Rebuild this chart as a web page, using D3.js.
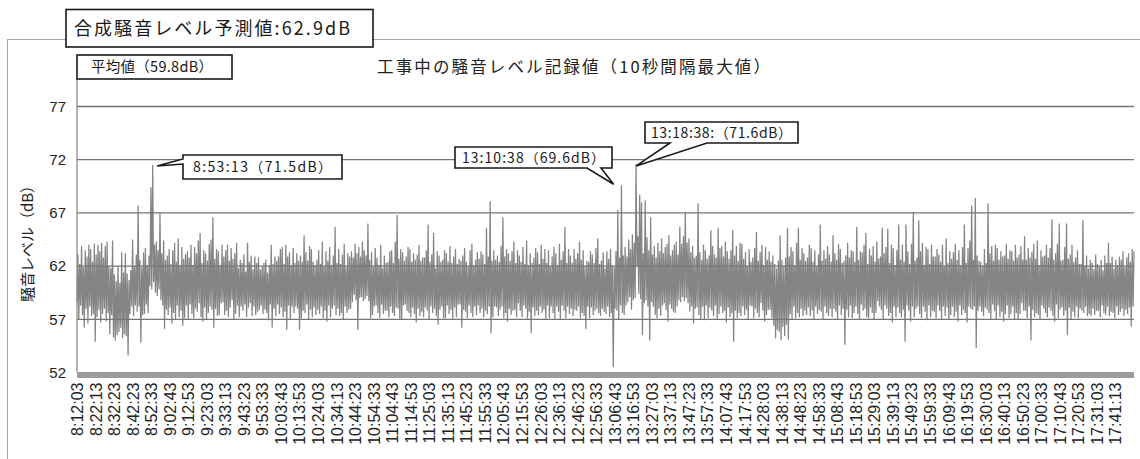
<!DOCTYPE html>
<html><head><meta charset="utf-8">
<script src="https://cdn.jsdelivr.net/npm/d3@7"></script>
<style>body{margin:0;background:#fff;} svg{display:block;}</style>
</head><body>
<svg id="c" width="1140" height="459"></svg>
<script>
// ---- data ----
const startTime = "8:12:03";
const stepSeconds = 30;           // one value read every 30 s from the picture
const yTicks = [52, 57, 62, 67, 72, 77];
const tickLabels = ["8:12:03","8:22:13","8:32:23","8:42:23","8:52:33","9:02:43","9:12:53","9:23:03","9:33:13","9:43:23","9:53:33","10:03:43","10:13:53","10:24:03","10:34:13","10:44:23","10:54:33","11:04:43","11:14:53","11:25:03","11:35:13","11:45:23","11:55:33","12:05:43","12:15:53","12:26:03","12:36:13","12:46:23","12:56:33","13:06:43","13:16:53","13:27:03","13:37:13","13:47:23","13:57:33","14:07:43","14:17:53","14:28:03","14:38:13","14:48:23","14:58:33","15:08:43","15:18:53","15:29:03","15:39:13","15:49:23","15:59:33","16:09:43","16:19:53","16:30:03","16:40:13","16:50:23","17:00:33","17:10:43","17:20:53","17:31:03","17:41:13"];
const noise = [
58.6,63.1,57.0,62.2,58.3,63.9,57.4,61.9,56.2,63.5,58.0,62.9,56.6,64.0,58.2,63.6,57.3,62.4,57.5,64.1,
54.9,63.1,57.2,64.0,57.9,63.4,56.7,64.2,57.5,62.8,58.0,63.9,56.8,64.3,57.6,62.0,55.6,61.8,57.4,64.4,
55.3,61.2,55.0,60.6,55.5,62.0,55.8,60.4,56.2,63.3,55.2,61.4,55.6,63.2,55.4,61.3,53.6,60.7,57.5,61.6,
58.2,64.5,57.3,62.0,58.3,63.1,57.7,67.7,58.2,62.6,54.8,61.9,57.4,63.3,57.5,63.7,58.4,62.1,57.6,63.0,
60.1,69.4,59.8,71.5,60.5,64.0,59.5,64.3,59.2,63.5,59.8,67.0,58.8,63.2,58.3,64.4,56.1,62.6,57.9,63.0,
57.4,63.6,58.1,62.2,56.6,63.5,57.6,64.2,57.0,62.4,58.3,64.6,57.2,62.1,57.8,63.8,56.4,62.7,57.1,63.1,
58.3,63.4,57.0,62.8,58.4,64.0,57.5,62.1,57.1,63.8,58.0,63.2,57.7,64.4,58.5,65.1,57.2,62.3,56.8,63.5,
58.1,63.2,57.0,62.5,57.6,64.1,58.2,64.5,57.9,66.6,56.2,62.7,58.0,63.6,57.3,63.4,57.4,62.1,58.5,64.0,
58.6,62.9,57.4,63.5,57.8,64.0,57.2,62.5,58.1,63.7,58.8,62.7,57.0,63.2,57.5,64.2,58.3,61.8,57.2,62.6,
58.2,62.3,57.8,63.1,58.4,61.5,57.2,64.2,58.1,62.4,58.5,63.0,57.3,61.7,58.2,62.9,57.4,62.3,57.7,62.8,
57.9,61.7,58.3,62.0,57.5,62.3,57.9,62.6,57.6,61.4,56.9,62.1,58.4,64.0,56.2,62.2,58.0,62.9,57.3,62.5,
58.4,62.9,57.5,63.6,58.1,63.8,57.2,62.2,57.7,64.0,56.0,62.9,58.3,63.3,57.0,62.1,58.2,63.7,57.6,62.3,
58.2,63.2,58.0,62.5,56.0,63.0,57.1,62.4,57.8,64.9,57.6,63.3,58.4,62.5,56.9,63.9,57.9,63.6,57.2,62.4,
58.1,62.1,57.4,62.6,57.9,63.5,57.5,62.2,58.2,64.3,57.1,62.0,57.8,63.4,56.8,62.5,58.3,63.8,57.2,62.1,
58.0,63.0,58.3,65.7,57.4,62.3,58.0,63.6,57.3,62.2,57.6,63.1,57.0,64.1,58.2,61.9,57.6,63.2,57.9,62.9,
58.0,63.4,58.6,62.8,59.3,64.1,58.8,63.2,56.0,63.8,59.0,62.9,59.1,64.3,58.7,63.5,58.9,63.0,59.2,66.0,
58.7,62.6,57.1,63.3,57.4,61.9,58.2,63.7,58.3,62.8,57.6,62.1,57.1,64.0,58.4,61.8,57.5,63.0,57.8,62.3,
57.8,62.4,57.2,63.4,58.2,63.5,57.6,62.3,57.3,64.3,58.1,66.8,58.0,62.7,57.0,63.6,56.9,63.3,58.3,62.5,
58.4,62.9,57.8,63.8,57.6,63.6,57.2,62.4,58.1,63.2,57.5,62.6,56.7,63.1,58.0,64.0,57.3,62.5,57.7,62.8,
57.2,62.8,58.1,63.5,57.8,65.9,57.0,62.4,58.2,63.1,57.6,65.1,58.0,61.8,57.3,63.4,56.5,63.0,57.9,62.4,
58.2,62.6,57.1,63.5,57.1,63.2,58.3,62.4,57.5,63.9,57.9,62.3,56.9,62.9,58.1,63.6,57.2,62.2,58.4,62.7,
58.4,62.5,56.2,63.0,57.9,63.7,57.7,62.4,57.1,62.0,58.3,63.5,57.6,64.1,57.2,62.1,58.2,62.6,57.4,63.3,
58.3,62.7,57.6,63.4,58.0,63.1,57.2,62.2,57.8,65.6,57.5,62.9,58.2,68.1,55.7,62.5,57.2,63.5,58.2,62.6,
58.1,63.0,57.3,62.4,57.9,63.9,58.2,66.6,57.1,62.9,57.6,63.6,56.8,63.2,58.0,62.5,57.4,63.4,57.8,64.3,
57.9,62.3,57.2,63.5,58.5,63.0,57.8,62.4,57.2,63.8,58.3,62.2,58.0,64.4,57.0,62.1,57.7,63.2,55.7,62.3,
58.1,62.8,57.3,63.7,57.8,63.3,57.4,62.2,58.2,64.0,57.6,62.7,57.9,63.6,57.0,62.3,58.3,63.5,57.1,62.0,
58.2,62.9,57.6,63.8,57.0,63.2,58.2,62.1,57.7,64.1,56.9,62.6,58.3,63.4,57.8,65.7,57.1,62.3,58.2,63.6,
57.5,63.0,58.0,62.3,57.3,63.6,57.9,62.7,57.8,63.2,58.2,64.3,57.1,62.6,57.6,63.5,57.3,62.0,56.1,62.5,
58.2,62.4,57.1,63.4,58.1,63.1,57.4,62.3,57.8,63.7,58.0,64.6,57.6,62.2,57.3,62.5,58.0,63.3,57.7,61.8,
57.5,63.4,58.2,62.7,57.2,63.6,57.6,62.1,52.5,61.9,58.0,63.4,57.8,67.3,57.0,62.8,58.3,69.6,57.6,63.0,
57.4,63.8,58.3,62.9,58.6,64.5,59.1,63.6,57.9,65.0,58.8,64.2,59.0,71.6,62.0,64.8,59.4,68.7,58.9,68.0,
55.5,63.2,58.5,68.2,58.8,64.7,58.2,63.5,55.0,66.6,58.6,63.1,58.2,63.9,57.4,62.8,57.1,64.2,58.0,63.4,
57.3,64.6,58.3,63.2,58.5,63.8,57.9,64.1,56.8,64.9,58.4,63.0,58.0,63.5,57.7,64.0,57.6,64.3,58.2,63.1,
58.8,65.7,58.6,64.1,59.1,64.8,58.7,67.1,59.0,64.2,58.5,64.6,57.7,63.3,58.2,63.9,56.6,62.8,58.0,63.0,
58.1,67.9,57.4,63.3,57.0,62.6,58.2,64.0,56.9,63.5,58.3,62.7,57.1,63.0,58.1,65.4,57.8,63.9,57.3,63.1,
58.3,62.8,57.0,65.6,57.5,63.7,58.2,63.9,57.6,62.9,57.8,64.3,56.7,63.4,58.1,62.7,57.2,63.5,57.6,65.4,
54.9,63.0,57.8,63.9,57.1,62.5,57.6,64.2,57.3,64.1,58.2,62.7,57.4,63.3,57.9,62.0,57.0,63.6,58.3,62.4,
58.2,62.8,57.1,63.7,58.0,65.2,57.6,62.5,57.2,63.3,58.5,64.0,57.8,62.1,56.8,63.8,57.4,62.6,57.9,63.4,
57.9,62.4,57.1,63.0,56.4,62.2,55.2,61.8,56.0,62.5,55.8,64.9,55.0,62.6,56.3,62.0,55.4,62.8,56.5,65.6,
55.1,62.9,57.5,63.8,57.0,63.4,58.2,62.1,57.1,64.2,57.6,65.6,57.2,62.6,58.0,63.7,57.3,63.2,57.8,62.5,
57.4,62.8,58.1,64.0,57.3,63.7,57.8,62.4,57.0,63.5,58.2,62.0,57.5,63.1,57.9,65.9,57.7,62.5,57.0,63.5,
58.2,62.7,57.6,63.9,57.3,63.1,58.0,62.4,57.2,64.9,58.0,63.2,57.7,62.6,56.9,64.1,58.3,63.6,57.4,62.3,
58.0,62.5,54.6,63.0,57.9,64.2,57.2,62.8,58.3,63.5,57.1,63.4,57.6,62.4,58.2,65.7,57.5,62.6,56.9,63.4,
58.4,63.3,57.8,64.0,58.0,65.1,57.2,62.2,57.1,63.6,58.1,63.0,57.6,63.9,56.9,62.4,57.6,64.3,58.7,62.7,
58.2,62.9,57.9,65.6,57.0,63.2,58.3,63.8,58.0,65.5,57.3,62.3,57.6,64.0,56.7,63.7,58.2,62.1,57.2,63.5,
58.1,65.9,57.6,62.6,57.2,64.0,57.9,62.4,54.9,65.9,58.3,63.4,57.8,62.2,56.8,64.1,58.2,67.1,57.2,62.5,
58.0,62.8,58.2,66.3,57.5,63.4,57.1,64.2,58.2,62.1,57.7,63.8,56.9,63.6,58.3,62.2,57.2,64.0,57.8,62.9,
57.7,62.9,57.1,63.6,58.3,63.1,57.8,62.4,57.0,64.0,58.2,62.0,57.3,64.6,58.1,62.3,56.9,63.4,57.4,62.7,
58.2,63.3,57.2,64.1,57.7,62.6,56.8,63.5,58.3,62.1,57.4,63.8,57.9,65.9,57.6,62.3,56.7,63.7,58.2,64.4,
58.0,67.7,57.9,62.6,58.2,68.4,54.3,63.0,57.8,62.5,58.2,62.4,57.7,62.0,57.3,63.6,58.1,62.3,57.9,67.9,
57.6,63.2,57.0,63.9,58.4,62.5,57.8,64.0,57.0,63.7,58.3,62.6,57.2,63.4,57.7,62.9,56.8,63.0,57.5,64.1,
58.3,62.7,57.1,63.5,57.5,63.4,58.2,62.5,57.0,64.0,57.6,62.8,56.9,63.1,57.5,63.9,58.5,62.6,57.8,64.8,
57.8,62.6,57.1,63.7,58.2,62.8,55.0,63.3,57.9,64.1,57.2,62.7,57.6,64.4,57.4,62.1,57.0,63.5,58.3,62.9,
58.0,63.0,57.6,64.0,57.2,62.8,58.1,63.7,57.8,66.4,57.3,62.6,56.8,63.2,58.4,64.1,57.1,66.0,57.9,62.5,
58.1,62.6,57.3,63.8,57.8,66.0,55.5,62.7,58.1,63.1,57.0,64.0,57.7,62.4,57.2,62.8,58.2,63.5,57.1,62.2,
58.0,62.2,57.8,66.3,57.6,62.0,58.2,63.0,57.3,61.8,57.5,62.6,57.3,62.3,58.0,61.7,57.4,63.1,57.8,62.2,
57.8,62.0,57.2,62.6,58.3,61.6,57.6,63.0,57.4,62.3,58.2,64.2,57.3,62.3,57.7,62.9,57.6,61.8,57.1,62.6,
58.2,62.1,57.4,62.9,57.7,62.6,58.0,63.4,57.3,61.9,57.9,62.8,57.5,63.2,58.1,62.4,56.3,63.6,58.2,63.4
];
const peakNotes = [
  {time: "8:53:13",  value: 71.5, label: "8:53:13（71.5dB）"},
  {time: "13:10:38", value: 69.6, label: "13:10:38（69.6dB）"},
  {time: "13:18:38", value: 71.6, label: "13:18:38:（71.6dB）"}
];
const predictedText = "合成騒音レベル予測値:62.9dB";
const averageText = "平均値（59.8dB）";
const titleText = "工事中の騒音レベル記録値（10秒間隔最大値）";
const yTitle = "騒音レベル（dB）";

// ---- helpers ----
function toSec(s){ const p = s.split(":").map(Number); return p[0]*3600 + p[1]*60 + p[2]; }
const t0 = toSec(startTime);

const svg = d3.select("#c");
const L = 77, R = 1134;
const x = d3.scaleLinear().domain([0, (noise.length-1)*stepSeconds]).range([L, R]);
const y = d3.scaleLinear().domain([52, 77]).range([372.5, 106.5]);
const jp = "'Noto Sans CJK JP', 'Noto Sans', sans-serif";
const lat = "'Liberation Sans', Arial, sans-serif";

// outer frame
svg.append("rect").attr("x", 7.5).attr("y", 39.5).attr("width", 1140).attr("height", 440)
  .attr("fill", "none").attr("stroke", "#a8a8a8").attr("stroke-width", 1);

// noise line (dense band)
const line = d3.line().x((d, i) => x(i*stepSeconds)).y(d => y(d));
svg.append("path").datum(noise).attr("d", line)
  .attr("fill", "none").attr("stroke", "#858585").attr("stroke-width", 1.25)
  .attr("stroke-linejoin", "miter").attr("stroke-miterlimit", 2);

// gridlines (on top, visible through the band)
svg.append("g").selectAll("line").data(yTicks.filter(d => d > 52)).join("line")
  .attr("x1", L).attr("x2", R).attr("y1", d => y(d)).attr("y2", d => y(d))
  .attr("stroke", "#767676").attr("stroke-width", 1.3);

// y axis
const yAxis = d3.axisLeft(y).tickValues(yTicks).tickSize(0).tickPadding(11);
const gy = svg.append("g").attr("transform", `translate(${L},0)`).call(yAxis);
gy.select(".domain").remove();
gy.selectAll("text").attr("font-family", lat).attr("font-size", 15).attr("fill", "#222");
svg.append("line").attr("x1", L).attr("x2", L).attr("y1", 79).attr("y2", y(52))
  .attr("stroke", "#8c8c8c").attr("stroke-width", 1.3);

// x axis (dense category ticks -> thick band)
svg.append("line").attr("x1", L).attr("x2", R).attr("y1", y(52) + 2.5).attr("y2", y(52) + 2.5)
  .attr("stroke", "#9d9d9d").attr("stroke-width", 6);
const tickSecs = tickLabels.map(s => toSec(s) - t0);
const xAxis = d3.axisBottom(x).tickValues(tickSecs).tickFormat((d, i) => tickLabels[i]).tickSize(0);
const gx = svg.append("g").attr("transform", `translate(0,${y(52)})`).call(xAxis);
gx.select(".domain").remove();
gx.selectAll("text")
  .attr("font-family", lat).attr("font-size", 16).attr("fill", "#222")
  .attr("text-anchor", "end").attr("transform", "rotate(-90)")
  .attr("x", -10).attr("y", 0).attr("dy", "0.36em");

// y title
svg.append("text").attr("transform", "translate(28,240) rotate(-90)")
  .attr("text-anchor", "middle").attr("dy", "0.35em")
  .attr("font-family", jp).attr("font-size", 15).attr("fill", "#222").text(yTitle);

// chart title
svg.append("text").attr("x", 377).attr("y", 73).attr("textLength", 393).attr("lengthAdjust", "spacing")
  .attr("font-family", jp).attr("font-size", 16.5).attr("fill", "#222").text(titleText);

// boxes
function box(x0, y0, w, h, txt, fs, tx, tl){
  svg.append("rect").attr("x", x0).attr("y", y0).attr("width", w).attr("height", h)
    .attr("fill", "#fff").attr("stroke", "#1a1a1a").attr("stroke-width", 1.6);
  svg.append("text").attr("x", tx).attr("y", y0 + h/2).attr("dy", "0.36em")
    .attr("textLength", tl).attr("lengthAdjust", "spacing")
    .attr("font-family", jp).attr("font-size", fs).attr("fill", "#1a1a1a").text(txt);
}
box(66, 9.5, 307, 37.5, predictedText, 18, 74, 276);
box(77, 55, 155, 24, averageText, 14.5, 91, 122);

// callouts: box geometry + wedge base, tip anchored at the data point
const callouts = [
  {bx: 183, by: 155, bw: 159, bh: 24, side: "left",   w0: 159, w1: 164, dx: 5,  dy: 1,  tx: 193, tl: 139},
  {bx: 455, by: 147, bw: 157, bh: 21, side: "bottom", w0: 587, w1: 601, dx: -8, dy: -1, tx: 462, tl: 143},
  {bx: 645, by: 122, bw: 153, bh: 21, side: "bottom", w0: 670, w1: 707, dx: 0,  dy: 2,  tx: 651, tl: 141}
];
peakNotes.forEach((p, k) => {
  const c = callouts[k];
  const tipX = x(toSec(p.time) - t0) + c.dx, tipY = y(p.value) + c.dy;
  const x1 = c.bx + c.bw, y1 = c.by + c.bh;
  let d;
  if (c.side === "left") {
    d = `M${c.bx},${c.by}H${x1}V${y1}H${c.bx}V${c.w1}L${tipX},${tipY}L${c.bx},${c.w0}Z`;
  } else {
    d = `M${c.bx},${c.by}H${x1}V${y1}H${c.w1}L${tipX},${tipY}L${c.w0},${y1}H${c.bx}Z`;
  }
  svg.append("path").attr("d", d).attr("fill", "#fff").attr("stroke", "#1a1a1a").attr("stroke-width", 1.6);
  svg.append("text").attr("x", c.tx).attr("y", c.by + c.bh/2).attr("dy", "0.36em")
    .attr("textLength", c.tl).attr("lengthAdjust", "spacing")
    .attr("font-family", jp).attr("font-size", 14).attr("fill", "#1a1a1a").text(p.label);
});
</script>
</body></html>
